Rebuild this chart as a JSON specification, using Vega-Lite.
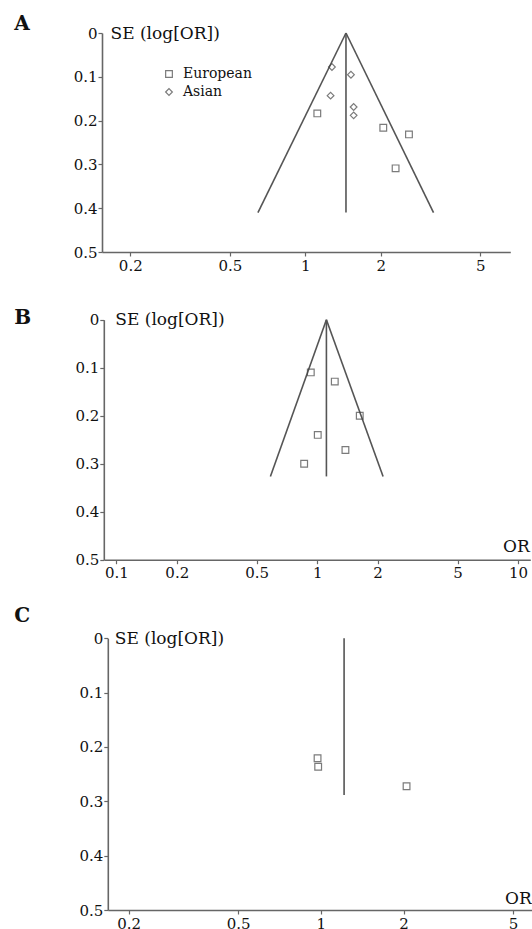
{
  "$schema": "https://vega.github.io/schema/vega-lite/v6.json",
  "padding": {"left": 14, "top": 14, "right": 0, "bottom": 0},
  "background": "white",
  "bounds": "flush",
  "spacing": 60,
  "config": {
    "view": {"stroke": null},
    "axis": {
      "grid": false,
      "domainColor": "#666",
      "domainWidth": 1.6,
      "tickColor": "#666",
      "tickWidth": 1.2,
      "tickSize": 4,
      "labelFont": "DejaVu Serif",
      "labelFontSize": 15,
      "labelColor": "#111",
      "titleFont": "DejaVu Serif",
      "titleFontSize": 17,
      "titleFontWeight": "normal",
      "titleColor": "#111"
    },
    "legend": {
      "labelFont": "DejaVu Serif",
      "labelFontSize": 14,
      "labelColor": "#111"
    }
  },
  "vconcat": [
    {
      "width": 408.3,
      "height": 219,
      "title": {"text": "A", "anchor": "start", "frame": "group", "dx": -87.7, "dy": 26.1, "offset": 0, "baseline": "alphabetic", "font": "DejaVu Serif", "fontSize": 20, "fontWeight": "bold", "color": "#111"},
      "encoding": {
        "x": {"field": "or", "type": "quantitative", "scale": {"type": "log", "domain": [0.1542, 6.59], "range": [0, 408.3], "nice": false},
              "axis": {"values": [0.2, 0.5, 1, 2, 5], "format": "~g", "labelPadding": 2, "title": null}},
        "y": {"field": "se", "type": "quantitative", "scale": {"domain": [0, 0.5], "range": [0, 219], "nice": false, "zero": false},
              "axis": {"values": [0, 0.1, 0.2, 0.3, 0.4, 0.5], "format": ".1~f", "labelPadding": 1, "title": "SE (log[OR])", "titleAngle": 0, "titleX": 8, "titleY": 0, "titleAlign": "left", "titleBaseline": "middle"}}
      },
      "layer": [
        {
          "data": {"values": [
            {"or": 0.647, "se": 0.41, "or2": 1.454, "se2": 0},
            {"or": 1.454, "se": 0, "or2": 3.253, "se2": 0.41},
            {"or": 1.454, "se": 0, "or2": 1.454, "se2": 0.41}
          ]},
          "mark": {"type": "rule", "color": "#555", "strokeWidth": 1.6},
          "encoding": {"x2": {"field": "or2"}, "y2": {"field": "se2"}}
        },
        {
          "data": {"values": [
            {"group": "Asian", "or": 1.278, "se": 0.0776},
            {"group": "Asian", "or": 1.522, "se": 0.0952},
            {"group": "Asian", "or": 1.262, "se": 0.143},
            {"group": "Asian", "or": 1.56, "se": 0.169},
            {"group": "Asian", "or": 1.56, "se": 0.188},
            {"group": "European", "or": 1.117, "se": 0.1836},
            {"group": "European", "or": 2.049, "se": 0.2162},
            {"group": "European", "or": 2.595, "se": 0.2315},
            {"group": "European", "or": 2.295, "se": 0.309}
          ]},
          "mark": {"type": "point", "filled": false, "color": "#444", "strokeWidth": 1.2, "size": 45},
          "encoding": {
            "shape": {"field": "group", "type": "nominal", "scale": {"domain": ["European", "Asian"], "range": ["square", "diamond"]},
                      "legend": {"orient": "none", "legendX": 60, "legendY": 34, "title": null, "padding": 0, "symbolSize": 45, "symbolStrokeColor": "#444", "symbolStrokeWidth": 1.2, "symbolFillColor": "transparent", "labelOffset": 7, "rowPadding": 4}}
          }
        }
      ]
    },
    {
      "width": 428.3,
      "height": 247.7,
      "title": {"text": "B", "anchor": "start", "frame": "group", "dx": -87.7, "dy": 33, "offset": 0, "baseline": "alphabetic", "font": "DejaVu Serif", "fontSize": 20, "fontWeight": "bold", "color": "#111"},
      "encoding": {
        "x": {"field": "or", "type": "quantitative", "scale": {"type": "log", "domain": [0.0866, 11.52], "range": [1.8, 428.3], "nice": false},
              "axis": {"values": [0.1, 0.2, 0.5, 1, 2, 5, 10], "format": "~g", "labelPadding": 2, "title": "OR", "titleX": 427.3, "titleY": -8.3, "titleAlign": "right", "titleBaseline": "alphabetic"}},
        "y": {"field": "se", "type": "quantitative", "scale": {"domain": [0, 0.5], "range": [7.7, 247.7], "nice": false, "zero": false},
              "axis": {"offset": -1.8, "values": [0, 0.1, 0.2, 0.3, 0.4, 0.5], "format": ".1~f", "labelPadding": 1, "title": "SE (log[OR])", "titleAngle": 0, "titleX": 11, "titleY": 7.7, "titleAlign": "left", "titleBaseline": "middle"}}
      },
      "layer": [
        {
          "data": {"values": [
            {"or": 0.585, "se": 0.3265, "or2": 1.112, "se2": 0},
            {"or": 1.112, "se": 0, "or2": 2.13, "se2": 0.3265},
            {"or": 1.112, "se": 0, "or2": 1.112, "se2": 0.3265}
          ]},
          "mark": {"type": "rule", "color": "#555", "strokeWidth": 1.6},
          "encoding": {"x2": {"field": "or2"}, "y2": {"field": "se2"}}
        },
        {
          "data": {"values": [
            {"group": "European", "or": 0.9297, "se": 0.1098},
            {"group": "European", "or": 1.224, "se": 0.129},
            {"group": "European", "or": 1.63, "se": 0.2},
            {"group": "European", "or": 1.007, "se": 0.24},
            {"group": "European", "or": 1.383, "se": 0.2715},
            {"group": "European", "or": 0.8615, "se": 0.3}
          ]},
          "mark": {"type": "point", "shape": "square", "filled": false, "color": "#444", "strokeWidth": 1.2, "size": 45}
        }
      ]
    },
    {
      "width": 430.3,
      "height": 290,
      "title": {"text": "C", "anchor": "start", "frame": "group", "dx": -87.7, "dy": 22.3, "offset": 0, "baseline": "alphabetic", "font": "DejaVu Serif", "fontSize": 20, "fontWeight": "bold", "color": "#111"},
      "encoding": {
        "x": {"field": "or", "type": "quantitative", "scale": {"type": "log", "domain": [0.168, 5.875], "range": [5.8, 430.3], "nice": false},
              "axis": {"values": [0.2, 0.5, 1, 2, 5], "format": "~g", "labelPadding": 2, "title": "OR", "titleX": 429.3, "titleY": -7, "titleAlign": "right", "titleBaseline": "alphabetic"}},
        "y": {"field": "se", "type": "quantitative", "scale": {"domain": [0, 0.5], "range": [18.3, 290], "nice": false, "zero": false},
              "axis": {"offset": -5.8, "values": [0, 0.1, 0.2, 0.3, 0.4, 0.5], "format": ".1~f", "labelPadding": 1, "title": "SE (log[OR])", "titleAngle": 0, "titleX": 6.5, "titleY": 18.3, "titleAlign": "left", "titleBaseline": "middle"}}
      },
      "layer": [
        {
          "data": {"values": [
            {"or": 1.215, "se": 0, "or2": 1.215, "se2": 0.2884}
          ]},
          "mark": {"type": "rule", "color": "#555", "strokeWidth": 1.6},
          "encoding": {"x2": {"field": "or2"}, "y2": {"field": "se2"}}
        },
        {
          "data": {"values": [
            {"group": "European", "or": 0.973, "se": 0.2208},
            {"group": "European", "or": 0.978, "se": 0.2363},
            {"group": "European", "or": 2.05, "se": 0.2724}
          ]},
          "mark": {"type": "point", "shape": "square", "filled": false, "color": "#444", "strokeWidth": 1.2, "size": 45}
        }
      ]
    }
  ]
}
